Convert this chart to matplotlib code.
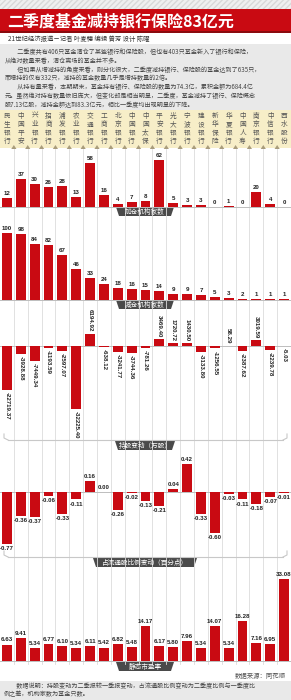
import matplotlib
matplotlib.use("Agg")
import matplotlib.pyplot as plt
from matplotlib import font_manager
from matplotlib.patches import Rectangle, Polygon

plt.rcParams['font.family'] = ['Noto Sans CJK SC', 'DejaVu Sans']

banks = ["民生银行", "中国平安", "兴业银行", "招商银行", "浦发银行", "农业银行", "交通银行",
         "工商银行", "北京银行", "中国银行", "中国太保", "平安银行", "光大银行", "宁波银行",
         "建设银行", "新华保险", "华夏银行", "中国人寿", "南京银行", "中信银行", "西水股份"]
add_funds = [12, 37, 30, 26, 28, 13, 58, 16, 4, 7, 8, 62, 5, 3, 3, 0, 1, 0, 20, 4, 0]
cut_funds = [100, 98, 84, 82, 67, 46, 33, 24, 18, 16, 15, 14, 9, 9, 7, 5, 3, 2, 1, 1, 1]
share_change = [-22719.37, -3928.88, -7449.34, -1193.59, -2597.07, -32225.40, 6194.92,
                -638.12, -3241.77, -3744.36, -781.26, 3469.40, 1720.72, 1430.50,
                -3133.80, -1256.55, 58.29, -2387.62, 3019.59, -2239.78, -5.03]
float_change = [-0.77, -0.36, -0.37, -0.06, -0.33, -0.11, 0.16, 0.00, -0.26, -0.02, -0.13,
                -0.21, 0.04, 0.42, -0.33, -0.60, -0.03, -0.11, -0.18, -0.07, -0.01]
pe_ratio = [6.63, 9.41, 5.34, 6.77, 6.10, 5.34, 6.11, 5.42, 6.82, 5.48, 14.17, 6.17, 5.80,
            7.96, 5.34, 14.07, 5.34, 16.28, 7.16, 6.95, 33.08]

title = "二季度基金减持银行保险83亿元"
byline = "21世纪经济报道－记者 叶麦穗 编辑 曾芳 设计 陈曜"
intro = ["　　二季度共有406只基金清仓了某些银行和保险股，但也有403只基金新入了银行和保险，",
         "从绝对数量来看，清仓离场的基金并不多。",
         "　　但如果从增减持的角度来看，则分化很大，二季度减持银行、保险股的基金达到了635只，",
         "而增持的仅有332只，减持的基金数量几乎是增持数量的2倍。",
         "　　从持有量来看，本期期末，基金持有银行、保险股的数量为74.3亿，累积金额为684.4亿",
         "元。虽然绝对持有数量依旧庞大，但变化却是相当明显，二季度，基金减持了银行、保险概念",
         "股7.13亿股，减持金额达到83.3亿元，相比一季度均出现明显的下降。"]
source = "数据来源：同花顺"
note = ["　　数据说明：持股变动为二季报较一季报变动，占流通股比例变动为二季度比例与一季度比",
        "例之差，机构家数为基金只数。"]

RED = "#c90a12"
TAB = "#4a4a4a"
installed = {f.name for f in font_manager.fontManager.ttflist}
if 'Liberation Sans Narrow' in installed:
    NUM, NUMSIZE = 'Liberation Sans Narrow', 5.2
else:
    NUM, NUMSIZE = 'Liberation Sans', 4.4
W, H = 291, 700
n = len(banks)
colw = W / n

fig = plt.figure(figsize=(2.91, 7.0), dpi=100)
fig.patch.set_facecolor("white")

# background layer in pixel coordinates
bg = fig.add_axes([0, 0, 1, 1])
bg.set_xlim(0, W)
bg.set_ylim(H, 0)
bg.axis("off")

# header
bg.add_patch(Rectangle((0, 0), W, 9, facecolor="#efefef", edgecolor="#d8d8d8",
                       hatch="//////", lw=0))
bg.add_patch(Rectangle((0, 9), W, 24, facecolor=RED, lw=0))
bg.add_patch(Rectangle((0, 31), W, 2, facecolor="#8a0a0e", lw=0))
bg.text(7, 21, title, color="white", fontsize=11.5, fontweight="heavy", va="center")
bg.text(8, 39, byline, color="#333333", fontsize=4.6, va="center")

bg.add_patch(Rectangle((0, 44), W, 66, facecolor="#e9e9e9", lw=0))
for k, line in enumerate(intro):
    bg.text(5, 52 + k * 8.8, line, color="#444444", fontsize=4.4, va="center")

# bank name strip
bg.add_patch(Rectangle((0, 110), W, 38, facecolor="#f7eec8", lw=0))
for i, name in enumerate(banks):
    cx = (i + 0.5) * colw
    for j, ch in enumerate(name):
        bg.text(cx, 116 + j * 8.4, ch, color="#555555", fontsize=4.8,
                ha="center", va="center")
for i in range(1, n):
    x = i * colw
    bg.add_patch(Polygon([[x - 2.6, 149], [x + 2.6, 149], [x, 145]],
                         facecolor="#a89c7c", lw=0))
    bg.plot([x, x], [149, 664], color="#dcdcdc", lw=0.6)

# footer
bg.text(286, 676, source, color="#555555", fontsize=4.6, ha="right", va="center")
bg.add_patch(Rectangle((0, 681), W, 19, facecolor="#e9e9e9", lw=0))
for k, line in enumerate(note):
    bg.text(4, 686 + k * 8.5, line, color="#444444", fontsize=4.4, va="center")


def tab(xc, y, width, label):
    bg.add_patch(Polygon([[xc - width / 2, y], [xc + width / 2, y],
                          [xc + width / 2 - 3, y + 9], [xc - width / 2 + 3, y + 9]],
                         facecolor=TAB, lw=0))
    bg.text(xc, y + 4.6, label, color="white", fontsize=4.8, ha="center", va="center")


def bracket(y):
    bg.plot([4, 4, 8], [y - 6, y - 2, y], color="#c8c8c8", lw=0.8)
    bg.plot([8, W - 8], [y, y], color="#c8c8c8", lw=0.8)
    bg.plot([W - 8, W - 4, W - 4], [y, y - 2, y - 6], color="#c8c8c8", lw=0.8)


def panel(top, base, bottom, upp):
    ax = fig.add_axes([0, 1 - bottom / H, 1, (bottom - top) / H])
    ax.set_xlim(-0.5, n - 0.5)
    ax.set_ylim(-(bottom - base) * upp, (base - top) * upp)
    ax.axis("off")
    ax.patch.set_alpha(0)
    ax.axhline(0, color="#bdbdbd", lw=0.7, zorder=1)
    return ax


def label(ax, i, v, txt, up, rot=0):
    ax.annotate(txt, (i, v), xytext=(0, 1.5 if up else -1.5), textcoords="offset points",
                ha="center", va="bottom" if up else "top", rotation=rot,
                fontsize=NUMSIZE, fontweight="bold", family=NUM, color="#222222",
                annotation_clip=False)


x = list(range(n))

# 1 add funds
ax1 = panel(150, 207, 208, 62 / 47)
ax1.bar(x, add_funds, width=0.72, color=RED, zorder=2)
for i, v in enumerate(add_funds):
    label(ax1, i, v, f"{v}", True)
tab(145, 207, 58, "加仓机构家数")

# 2 cut funds
ax2 = panel(222, 300, 301, 100 / 67)
ax2.bar(x, cut_funds, width=0.72, color=RED, zorder=2)
for i, v in enumerate(cut_funds):
    label(ax2, i, v, f"{v}", True)
tab(145, 300, 58, "减仓机构家数")

# 3 share change
ax3 = panel(306, 346, 438, 32225 / 63)
ax3.bar(x, share_change, width=0.72, color=RED, zorder=2)
for i, v in enumerate(share_change):
    label(ax3, i, v, f"{v:.2f}", v > 0, rot=270)
bracket(440)
tab(145, 441, 60, "持股变动（万股）")

# 4 float ratio change
ax4 = panel(452, 492, 556, 0.77 / 52)
ax4.bar(x, float_change, width=0.72, color=RED, zorder=2)
for i, v in enumerate(float_change):
    label(ax4, i, v, f"{v:.2f}", v >= 0)
bracket(557)
tab(145, 558, 104, "占流通股比例变动（百分点）")

# 5 static PE
ax5 = panel(570, 661, 662, 33.08 / 82)
ax5.bar(x, pe_ratio, width=0.72, color=RED, zorder=2)
for i, v in enumerate(pe_ratio):
    label(ax5, i, v, f"{v:.2f}", True)
tab(145, 662, 58, "静态市盈率")

fig.savefig("out.png", dpi=100)
